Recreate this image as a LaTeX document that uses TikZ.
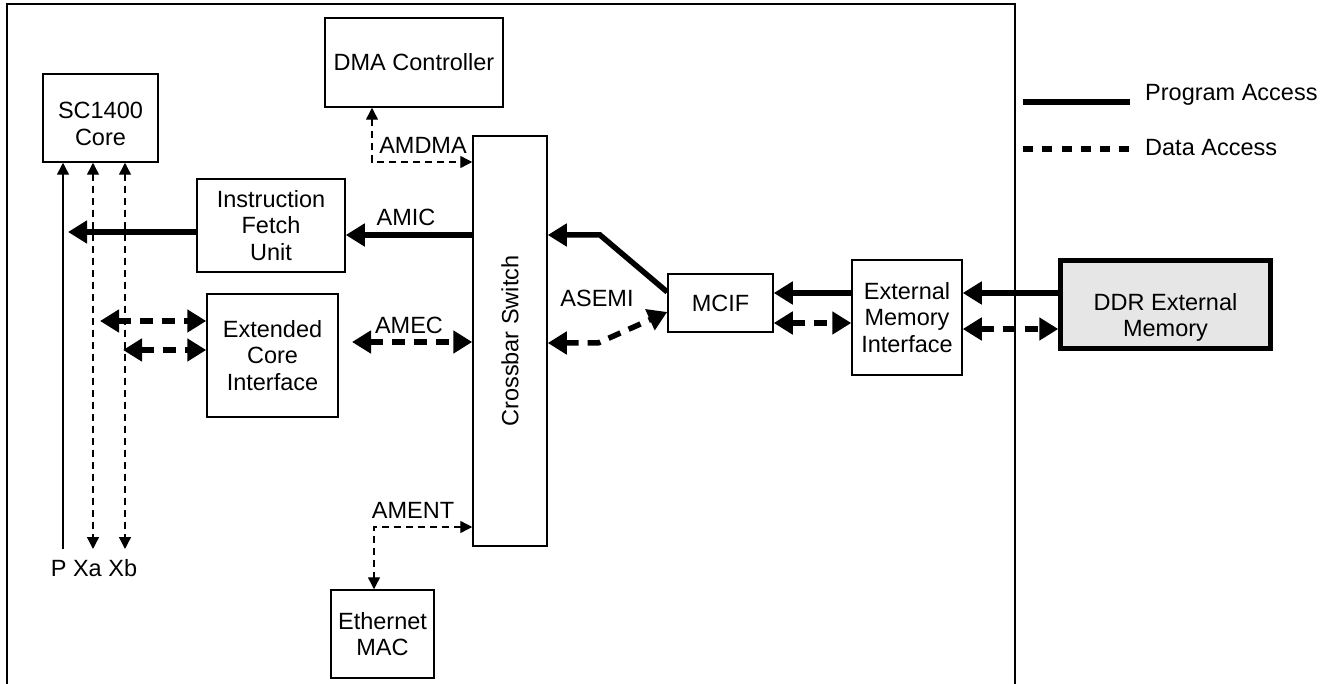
\documentclass[tikz,border=0pt]{standalone}
\usepackage{fontspec}
\setmainfont{Liberation Sans}
\usetikzlibrary{arrows.meta}
\newcommand\blockfont{\fontsize{23.5}{26.5}\selectfont}
\tikzset{
  box/.style={draw, line width=1.5pt, inner sep=0pt, align=center, font=\blockfont},
  lbl/.style={inner sep=0pt, font=\blockfont},
  inlbl/.style={lbl, align=center},
  prog/.style={line width=5.5pt, >={Triangle[length=19pt,width=22pt]}},
  data/.style={prog, dash pattern=on 13pt off 9pt},
  thinline/.style={line width=1.4pt, >={Triangle[length=12pt,width=12pt]}},
  thindash/.style={thinline, dash pattern=on 7pt off 5pt},
}
\begin{document}
\begin{tikzpicture}[x=1pt,y=-1pt]
\useasboundingbox (0,0) rectangle (1333,684);

% chip outline, open at the bottom
\draw[line width=1.5pt] (7,684) -- (7,4) -- (1015,4) -- (1015,684);

% blocks
\node[box, minimum width=115pt, minimum height=88pt,
      label={[inlbl, yshift=-6pt]center:SC1400\\Core}] (core) at (100.5,118) {};
\node[box, minimum width=178pt, minimum height=89pt] (dma) at (414,62.5) {DMA Controller};
\node[box, minimum width=74pt, minimum height=410pt] (xbar) at (510,341) {};
\node[lbl, rotate=90] (xbarlbl) at (xbar.center) {Crossbar Switch};
\node[box, minimum width=148pt, minimum height=93pt] (ifu) at (271,225.5) {Instruction\\Fetch\\Unit};
\node[box, minimum width=131pt, minimum height=123pt] (eci) at (272.5,355.5) {Extended\\Core\\Interface};
\node[box, minimum width=103pt, minimum height=88pt] (eth) at (382.5,634) {Ethernet\\MAC};
\node[box, minimum width=105pt, minimum height=58pt] (mcif) at (720.5,303) {MCIF};
\node[box, minimum width=110pt, minimum height=115pt] (emi) at (907,317.5) {External\\Memory\\Interface};
\node[box, line width=4.5pt, fill={rgb,255:red,230;green,230;blue,230}, minimum width=210pt, minimum height=88pt,
      label={[inlbl, yshift=-13pt]center:DDR External\\Memory}] (ddr) at (1165.5,304.5) {};

% core buses P, Xa, Xb
\coordinate (pend) at (63,549);
\coordinate (xaend) at (93,549);
\coordinate (xbend) at (125,549);
\draw[thinline, ->] (pend) -- (core.south -| pend);
\draw[thindash, <->] (core.south -| xaend) -- (xaend);
\draw[thindash, <->] (core.south -| xbend) -- (xbend);
\node[lbl] (buslbl) at (94,568) {P Xa Xb};

% instruction path
\coordinate (ifutip) at (68,232);
\draw[prog, ->] (ifu.west |- ifutip) -- (ifutip);
\coordinate (amic) at (0,235);
\draw[prog, ->] (xbar.west |- amic) -- (ifu.east |- amic);
\node[lbl] (amiclbl) at (406,217) {AMIC};

% DMA port
\coordinate (dmabend) at (372,162);
\draw[thindash, <->] (dma.south -| dmabend) -- (dmabend) -- (xbar.west |- dmabend);
\node[lbl] (amdmalbl) at (423,145) {AMDMA};

% extended core interface
\coordinate (ecia) at (100,321);
\coordinate (ecib) at (123,350);
\draw[data, <->] (ecia) -- (eci.west |- ecia);
\draw[data, <->] (ecib) -- (eci.west |- ecib);
\coordinate (amec) at (352,342);
\draw[data, <->] (amec) -- (xbar.west |- amec);
\node[lbl] (ameclbl) at (409,325) {AMEC};

% ethernet port
\coordinate (amentbend) at (374,527);
\draw[thindash, <->] (xbar.west |- amentbend) -- (amentbend) -- (eth.north -| amentbend);
\node[lbl] (amentlbl) at (413,510) {AMENT};

% memory controller paths
\coordinate (mcifprog) at (668,292);
\coordinate (progbend) at (600,235);
\draw[prog, ->] (mcif.west |- mcifprog) -- (progbend) -- (xbar.east |- progbend);
\coordinate (asemibend) at (598,343);
\coordinate (asemiin) at (0,312);
\draw[data, <->] (xbar.east |- asemibend) -- (asemibend) -- (mcif.west |- asemiin);
\node[lbl] (asemilbl) at (597,298) {ASEMI};

\coordinate (memprog) at (0,293);
\coordinate (memdata) at (0,323);
\coordinate (ddrdata) at (0,329);
\draw[prog, ->] (emi.west |- memprog) -- (mcif.east |- memprog);
\draw[data, <->] (mcif.east |- memdata) -- (emi.west |- memdata);
\draw[prog, ->] (ddr.west |- memprog) -- (emi.east |- memprog);
\draw[data, <->] (emi.east |- ddrdata) -- (ddr.west |- ddrdata);

% legend
\coordinate (lpa) at (1023,102);
\coordinate (lpb) at (1130,102);
\coordinate (lda) at (1023,149);
\coordinate (ldb) at (1130,149);
\draw[prog] (lpa) -- (lpb);
\draw[line width=5.5pt, dash pattern=on 10pt off 9.25pt] (lda) -- (ldb);
\node[lbl, anchor=west] (proglbl) at (1145,95) {Program Access};
\node[lbl, anchor=west] (datalbl) at (1145,148) {Data Access};
\end{tikzpicture}
\end{document}
